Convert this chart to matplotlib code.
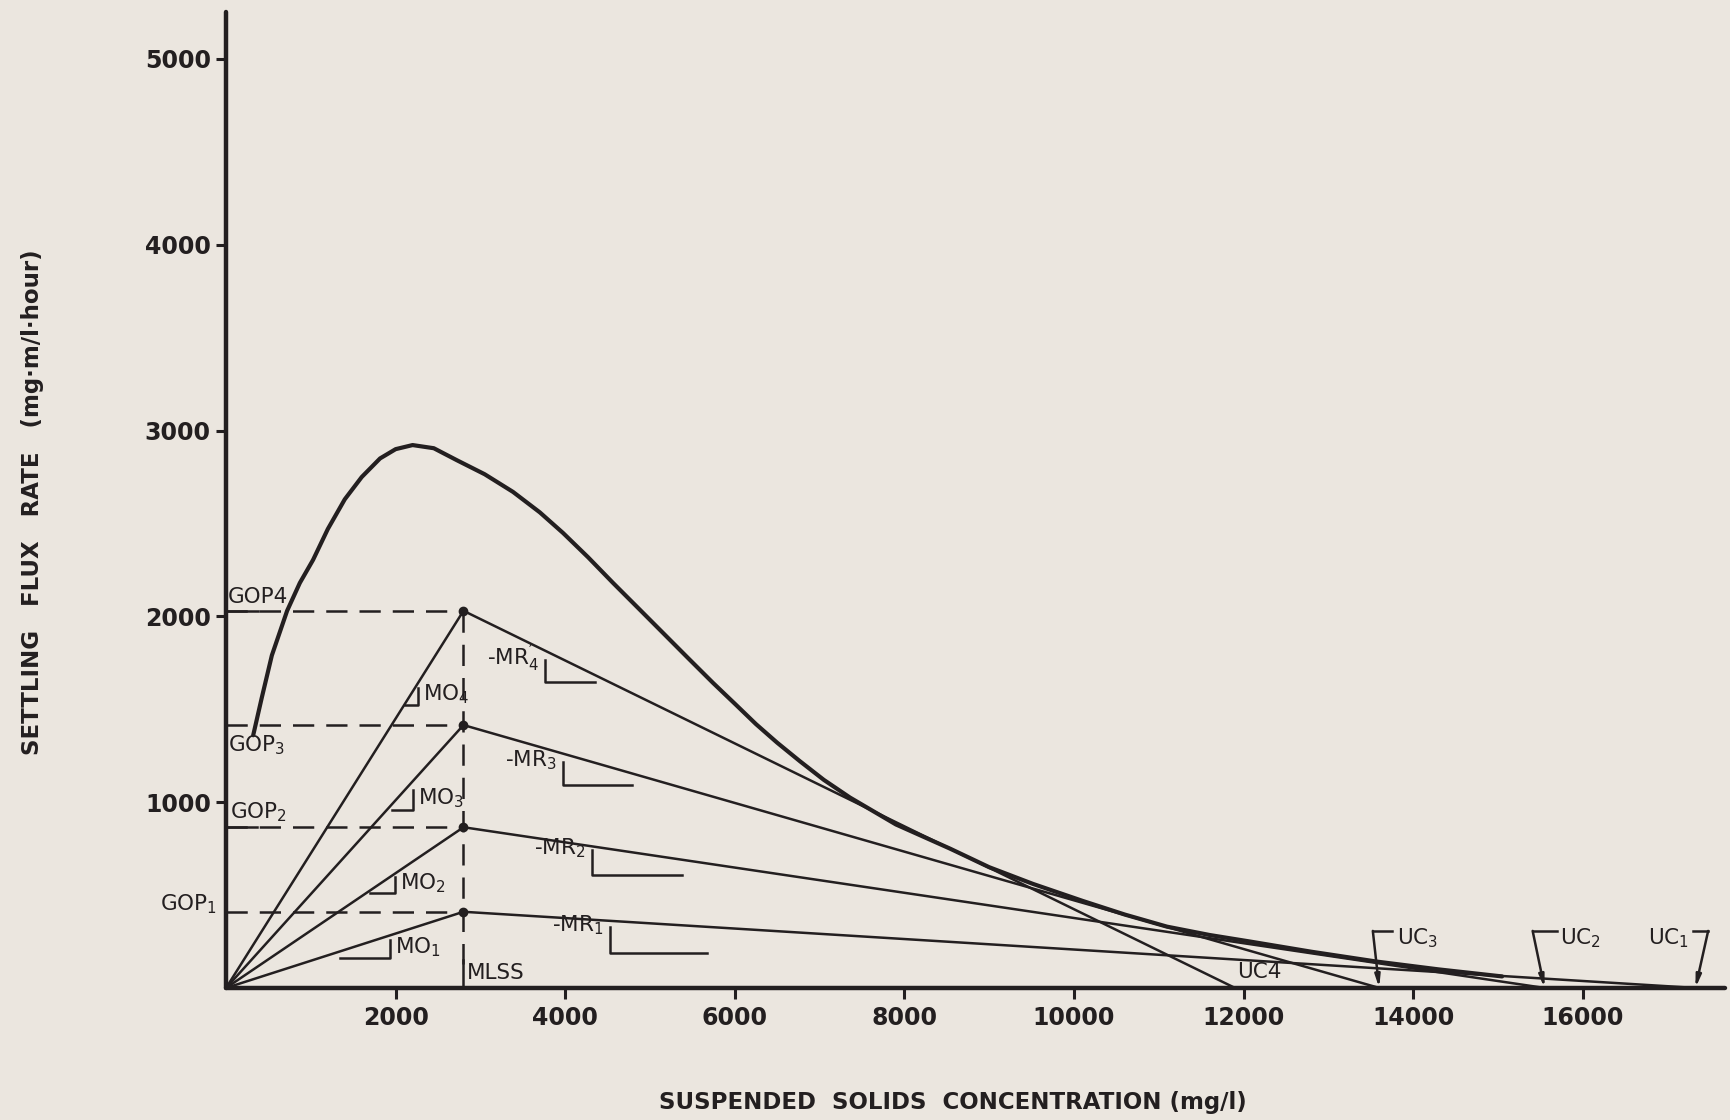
"""
Settling flux curve with operating lines (MO / MR) and underflow
concentrations, redrawn from a scanned hand-lettered figure.
Output: out.png
"""

import matplotlib
matplotlib.use("Agg")
import matplotlib.pyplot as plt

# ──────────────────────────────────────────────
# Data
# ──────────────────────────────────────────────
CONC = [320, 420, 540, 720, 870, 1026, 1200, 1400, 1600, 1816, 2000,
        2200, 2450, 2724, 3050, 3384, 3700, 3974, 4270, 4564, 4860,
        5153, 5450, 5743, 6000, 6250, 6500, 6769, 7050, 7358, 7900,
        8538, 9000, 9517, 10106, 10600, 11097, 11600, 12075, 12800,
        13570, 14300, 15050]
FLUX = [1360, 1560, 1790, 2030, 2180, 2304, 2470, 2630, 2750, 2850, 2900,
        2922, 2905, 2840, 2765, 2670, 2560, 2449, 2318, 2180, 2045,
        1911, 1775, 1642, 1530, 1420, 1320, 1220, 1120, 1025, 880,
        750, 650, 560, 468, 395, 330, 285, 250, 195,
        142, 100, 62]

MLSS = 2800
GOP = [410, 865, 1415, 2030]          # GOP1..GOP4
UC = [17330, 15550, 13600, 11900]     # UC1..UC4

X_TICKS = [2000, 4000, 6000, 8000, 10000, 12000, 14000, 16000]
Y_TICKS = [1000, 2000, 3000, 4000, 5000]

# ──────────────────────────────────────────────
# Style
# ──────────────────────────────────────────────
INK = "#231f20"
PAPER = "#ebe6df"
plt.rcParams.update({
    "font.family": ["DejaVu Sans"],
    "mathtext.default": "regular",
    "text.color": INK,
})
DASH = (8.5, 4.8)
LBL = 15.5      # size of the hand-lettered labels
LW = 1.8        # thin ink lines

fig = plt.figure(figsize=(17.31, 11.2), dpi=100, facecolor=PAPER)
ax = fig.add_axes([0.1306, 0.1179, 0.866, 0.8714], facecolor=PAPER)

ax.set_xlim(0, 17680)
ax.set_ylim(0, 5253)

for side in ("top", "right"):
    ax.spines[side].set_visible(False)
for side in ("left", "bottom"):
    ax.spines[side].set_linewidth(3.2)
    ax.spines[side].set_color(INK)
    ax.spines[side].set_capstyle("round")

ax.set_xticks(X_TICKS)
ax.set_yticks(Y_TICKS)
ax.tick_params(axis="x", direction="out", length=8, width=2.2, color=INK,
               pad=5, labelsize=17, labelcolor=INK)
ax.tick_params(axis="y", direction="out", length=7, width=2.2, color=INK,
               pad=4, labelsize=17, labelcolor=INK)
for lab in ax.get_xticklabels() + ax.get_yticklabels():
    lab.set_fontweight("bold")

# ──────────────────────────────────────────────
# Flux curve
# ──────────────────────────────────────────────
ax.plot(CONC, FLUX, color=INK, lw=3.0, solid_capstyle="round",
        solid_joinstyle="round", zorder=5)

# ──────────────────────────────────────────────
# Operating lines
# ──────────────────────────────────────────────
for g, uc in zip(GOP, UC):
    ax.plot([0, MLSS], [0, g], color=INK, lw=LW, zorder=4)       # MO
    ax.plot([MLSS, uc], [g, 0], color=INK, lw=LW, zorder=4)      # MR
    ax.plot([0, MLSS], [g, g], color=INK, lw=LW, ls=(0, DASH), zorder=3)
    ax.plot([MLSS], [g], "o", color=INK, ms=6, zorder=6)

# vertical dashed line at MLSS and its solid foot
ax.plot([MLSS, MLSS], [GOP[-1], 130], color=INK, lw=LW, ls=(0, DASH), zorder=3)
ax.plot([MLSS, MLSS], [0, 150], color=INK, lw=LW, zorder=3)
ax.text(MLSS + 45, 78, "MLSS", fontsize=LBL, ha="left", va="center")

# underlines under GOP4 / GOP2 labels
ax.plot([0, 377], [GOP[3], GOP[3]], color=INK, lw=LW)
ax.plot([0, 365], [GOP[1], GOP[1]], color=INK, lw=LW)

# GOP labels
ax.text(25, GOP[3] + 20, "GOP4", fontsize=LBL, ha="left", va="bottom")
ax.text(25, GOP[2] - 45, "$GOP_3$", fontsize=LBL, ha="left", va="top")
ax.text(45, GOP[1] + 20, "$GOP_2$", fontsize=LBL, ha="left", va="bottom")
ax.text(-110, GOP[0] + 40, "$GOP_1$", fontsize=LBL, ha="right",
        va="center", clip_on=False)

# MO slope marks "_|" + labels
MO_MARK = [(1344, 1934, 161, 258), (1698, 1993, 511, 597),
           (1958, 2205, 958, 1066), (2111, 2264, 1523, 1615)]
for i, (x0, x1, yb, yt) in enumerate(MO_MARK):
    ax.plot([x0, x1, x1], [yb, yb, yt], color=INK, lw=LW)
    ax.text(x1 + 60, (yb + yt) / 2 + 10, f"$MO_{i + 1}$", fontsize=LBL,
            ha="left", va="center")

# MR slope marks "|_" + labels
MR_MARK = [(4528, 5672, 188, 328), (4316, 5377, 608, 743),
           (3974, 4788, 1093, 1216), (3762, 4351, 1647, 1765)]
MR_TEXT = ["-$MR_1$", "-$MR_2$", "-$MR_3$", "-$MR_4^{\\prime}$"]
for (x0, x1, yb, yt), txt in zip(MR_MARK, MR_TEXT):
    ax.plot([x0, x0, x1], [yt, yb, yb], color=INK, lw=LW)
    ax.text(x0 - 70, yt + 10, txt, fontsize=LBL, ha="right", va="center")

# ──────────────────────────────────────────────
# Underflow concentration markers
# ──────────────────────────────────────────────
UC_CORNER = [(17480, 17300), (15410, 15700), (13525, 13750)]  # (corner, stub end)
for uc, (cx, sx) in zip(UC[:3], UC_CORNER):
    ax.plot([sx, cx], [307, 307], color=INK, lw=LW)
    ax.annotate("", xy=(uc, 0), xytext=(cx, 307),
                arrowprops=dict(arrowstyle="-|>,head_length=0.7,head_width=0.15",
                                color=INK, lw=LW, shrinkA=0, shrinkB=0))
ax.text(17260, 270, "$UC_1$", fontsize=LBL, ha="right", va="center")
ax.text(15730, 270, "$UC_2$", fontsize=LBL, ha="left", va="center")
ax.text(13810, 270, "$UC_3$", fontsize=LBL, ha="left", va="center")
ax.text(11920, 86, "UC4", fontsize=LBL, ha="left", va="center")

# ──────────────────────────────────────────────
# Axis titles
# ──────────────────────────────────────────────
fig.text(33 / 1731, 1 - 502 / 1120, "SETTLING   FLUX   RATE   (mg·m/l·hour)",
         rotation=90, ha="center", va="center", fontsize=16.5,
         fontweight="bold")
fig.text(953 / 1731, 1 - 1102 / 1120, "SUSPENDED  SOLIDS  CONCENTRATION (mg/l)",
         ha="center", va="center", fontsize=16.5, fontweight="bold")

fig.savefig("out.png", dpi=100, facecolor=PAPER)
plt.close(fig)
